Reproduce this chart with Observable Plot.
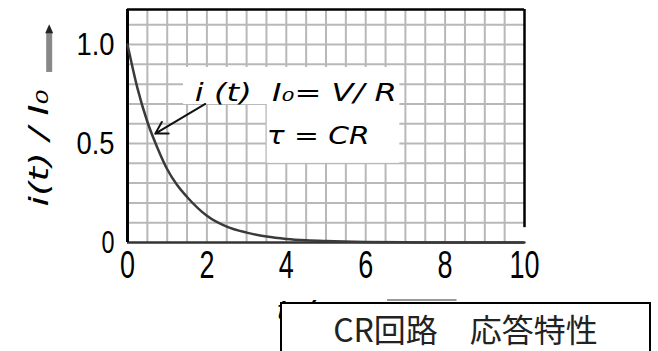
<!DOCTYPE html>
<html><head><meta charset="utf-8">
<script src="https://cdn.jsdelivr.net/npm/d3@7"></script>
<script src="https://cdn.jsdelivr.net/npm/@observablehq/plot@0.6"></script>
<style>
body{margin:0;background:#fff;}
#wrap{position:relative;width:658px;height:351px;overflow:hidden;background:#fff;}
#cap{position:absolute;left:280px;top:302px;width:371px;height:70px;border:2px solid #000;background:#fff;box-sizing:border-box;font-family:"Noto Sans CJK JP";font-size:32px;text-align:center;line-height:1;padding-top:8px;color:#222;}
</style></head><body><div id="wrap"></div>
<script>
// Curve: t/τ and i(t)/I0
const tValues      = [0, 0.25, 0.5, 0.75, 1, 1.25, 1.5, 2, 2.5, 3, 3.5, 4, 4.5, 5, 6, 7, 8, 9, 10];
const currentRatio = [1.0, 0.78, 0.61, 0.48, 0.37, 0.29, 0.23, 0.135, 0.08, 0.05, 0.03, 0.018, 0.011, 0.007, 0.0025, 0.001, 0, 0, 0];
const xTicks = [0, 2, 4, 6, 8, 10];
const yTicks = [0, 0.5, 1.0];
const yTickLabels = ["0", "0.5", "1.0"];
const gridX = [0.5,1,1.5,2,2.5,3,3.5,4,4.5,5,5.5,6,6.5,7,7.5,8,8.5,9,9.5];
const gridY = [0.1,0.2,0.3,0.4,0.5,0.6,0.7,0.8,0.9,1.0,1.1];
const xDomain = [0, 10];
const yDomain = [0, 1.177];
const noteLine1 = "i (t)  I₀= V/ R";
const noteLine2 = "τ = CR";
const yLabel = "i(t) / I₀";
const xLabel = "t / τ";
const captionText = "CR回路　応答特性";
// annotation anchor points in data units
const noteBoxes = [
  {x1: 1.41, x2: 6.86, y1: 0.697, y2: 0.884},
  {x1: 3.52, x2: 6.86, y1: 0.40, y2: 0.697}
];
const noteArrow = [{x1: 1.96, y1: 0.70, x2: 0.70, y2: 0.55}];

const curve = tValues.map((t, i) => ({t, v: currentRatio[i]}));
const fontNum = "'Liberation Sans', sans-serif";

const plot = Plot.plot({
  width: 658, height: 351,
  marginLeft: 127, marginRight: 134, marginTop: 9, marginBottom: 109,
  x: {domain: xDomain},
  y: {domain: yDomain},
  style: {background: "transparent", color: "#000"},
  marks: [
    Plot.ruleX(gridX, {stroke: "#b8b8b8", strokeWidth: 2}),
    Plot.ruleY(gridY, {stroke: "#b8b8b8", strokeWidth: 2}),
    Plot.rect(noteBoxes, {x1: "x1", x2: "x2", y1: "y1", y2: "y2", fill: "#fff"}),
    Plot.ruleY([0], {stroke: "#333", strokeWidth: 2.5}),
    Plot.ruleX([0], {stroke: "#000", strokeWidth: 3}),
    Plot.ruleY([yDomain[1]], {stroke: "#000", strokeWidth: 2.5}),
    Plot.ruleX([10], {y1: 0.075, y2: yDomain[1], stroke: "#000", strokeWidth: 2.5}),
    Plot.line(curve, {x: "t", y: "v", stroke: "#3a3a3a", strokeWidth: 2.5, curve: "monotone-x"}),
    Plot.arrow(noteArrow, {x1: "x1", y1: "y1", x2: "x2", y2: "y2", stroke: "#111", strokeWidth: 2, headLength: 10}),
    Plot.axisX({ticks: xTicks, tickSize: 0, tickPadding: 9, fontSize: 38, fontFamily: fontNum, label: null}),
    Plot.axisY({ticks: yTicks, tickFormat: (d) => yTickLabels[yTicks.indexOf(d)], tickSize: 0, tickPadding: 13, fontSize: 32, fontFamily: fontNum, label: null})
  ]
});
document.getElementById("wrap").appendChild(plot);

const sx = plot.scale("x").apply, sy = plot.scale("y").apply;
const svg = d3.select(plot);
function addText(o) {
  const t = svg.append("text")
    .attr("x", o.x).attr("y", o.y)
    .attr("font-family", o.family || "'DejaVu Sans', sans-serif")
    .attr("font-size", o.size)
    .attr("font-style", o.style || "normal")
    .attr("text-anchor", o.anchor || "start")
    .attr("dominant-baseline", "central")
    .attr("fill", "#000")
    .text(o.text);
  if (o.len) t.attr("textLength", o.len).attr("lengthAdjust", "spacingAndGlyphs");
  if (o.rotate) t.attr("transform", `rotate(${o.rotate},${o.x},${o.y})`);
  return t;
}
// compress tick labels like the narrow original digits
svg.selectAll("g[aria-label='x-axis tick label'] text").each(function() {
  const s = d3.select(this).text();
  d3.select(this).attr("textLength", s.length * 15).attr("lengthAdjust", "spacingAndGlyphs");
});
svg.selectAll("g[aria-label='y-axis tick label'] text").each(function() {
  const s = d3.select(this).text();
  d3.select(this).attr("textLength", s.length === 1 ? 13 : 38).attr("lengthAdjust", "spacingAndGlyphs");
});
addText({x: sx(1.71), y: sy(0.757), text: noteLine1, size: 25, style: "italic", len: 202});
addText({x: sx(3.52), y: sy(0.54), text: noteLine2, size: 25, style: "italic", len: 103});
addText({x: sx(-2.22), y: sy(0.475), text: yLabel, size: 27, style: "italic", len: 117, anchor: "middle", rotate: -90});
// up arrow beside y label
const ax = sx(-1.96);
svg.append("line").attr("x1", ax).attr("x2", ax).attr("y1", sy(0.859)).attr("y2", sy(1.06)).attr("stroke", "#888").attr("stroke-width", 6);
svg.append("path").attr("d", `M${ax - 4},${sy(1.055)} L${ax},${sy(1.1)} L${ax + 4},${sy(1.055)} Z`).attr("fill", "#222");
// x label (mostly hidden by caption box)
addText({x: sx(3.75), y: 310, text: xLabel, size: 27, style: "italic", len: 70});
svg.append("line").attr("x1", sx(6.55)).attr("x2", sx(8.3)).attr("y1", 300).attr("y2", 300).attr("stroke", "#999").attr("stroke-width", 2);

const cap = document.createElement("div");
cap.id = "cap";
cap.textContent = captionText;
document.getElementById("wrap").appendChild(cap);
</script></body></html>
